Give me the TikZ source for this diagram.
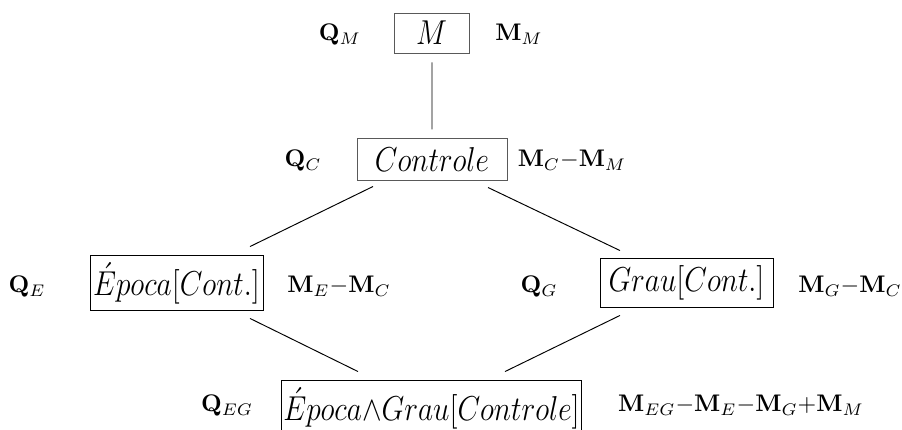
\documentclass[tikz,border=0pt]{standalone}
\usepackage{graphicx}
\usetikzlibrary{calc}
% slightly condensed large math italic for the terms inside the boxes
\newcommand{\termtext}[1]{\scalebox{0.85}[1]{\Large$#1$}}
\begin{document}
\begin{tikzpicture}[x=0.4167pt,y=-0.4167pt,
  box/.style={draw,inner sep=0pt},
  softbox/.style={box,draw=black!65},
  lbl/.style={inner sep=0pt,anchor=base},
  link/.style={draw=black,line width=0.4pt},
  softlink/.style={draw=black!55,line width=0.5pt}]
\useasboundingbox (0,0) rectangle (902,430);
\fill[white] (0,0) rectangle (902,430);
\clip (0,0) rectangle (902,430);

% the lattice of terms
\node[softbox, minimum width=31.25pt, minimum height=16.67pt] (m) at (431.5,33) {\termtext{M}};
\node[softbox, minimum width=62.5pt, minimum height=17.1pt] (ctl) at (432,159.5) {\termtext{Controle}};
\node[box, minimum width=72.1pt, minimum height=23.3pt] (ep) at (176.5,283) {\termtext{\acute{E}poca[Cont.]}};
\node[box, minimum width=72.1pt, minimum height=20.8pt] (gr) at (686.5,283) {\termtext{Grau[Cont.]}};
\node[box, minimum width=125.4pt, minimum height=23.3pt] (eg) at (431.5,408) {\termtext{\acute{E}poca{\wedge}Grau[Controle]}};

% quadratic forms and projections beside each term
\node[lbl] (qm) at (340,41) {$\mathbf{Q}_M$};
\node[lbl] (mm) at (519,41) {$\mathbf{M}_M$};
\node[lbl] (qc) at (303,167) {$\mathbf{Q}_C$};
\node[lbl] (mc) at (572,167) {$\mathbf{M}_C{-}\mathbf{M}_M$};
\node[lbl] (qe) at (27,293) {$\mathbf{Q}_E$};
\node[lbl] (me) at (339,293) {$\mathbf{M}_E{-}\mathbf{M}_C$};
\node[lbl] (qg) at (539,293) {$\mathbf{Q}_G$};
\node[lbl] (mg) at (850,293) {$\mathbf{M}_G{-}\mathbf{M}_C$};
\node[lbl] (qeg) at (227,412) {$\mathbf{Q}_{EG}$};
\node[lbl] (meg) at (741,412) {$\mathbf{M}_{EG}{-}\mathbf{M}_E{-}\mathbf{M}_G{+}\mathbf{M}_M$};

% connectors
\path[softlink] ($(m.south)+(0.5,9)$) -- ($(ctl.north)+(0,-9)$);
\path[link] ($(ctl.south)+(-59,6)$) -- ($(ep.north)+(73.5,-8)$);
\path[link] ($(ctl.south)+(56,7)$) -- ($(gr.north)+(-66.5,-7)$);
\path[link] ($(ep.south)+(73.5,7)$) -- ($(eg.north)+(-73.5,-8)$);
\path[link] ($(gr.south)+(-66.5,7)$) -- ($(eg.north)+(73.5,-8)$);
\end{tikzpicture}
\end{document}
